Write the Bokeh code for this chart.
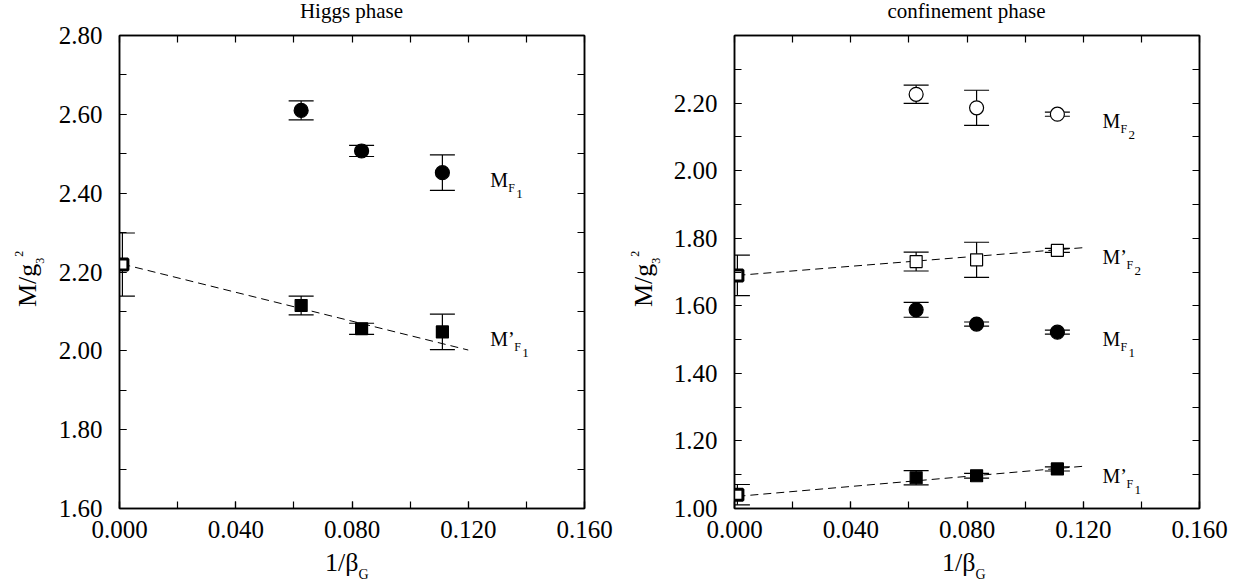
from bokeh.plotting import figure
from bokeh.models import (ColumnDataSource, Whisker, TeeHead, Label, LinearAxis,
                          FixedTicker, NumeralTickFormatter, Range1d, Div)
from bokeh.layouts import row, column
from bokeh.embed import file_html
from bokeh.resources import INLINE

FONT = "Liberation Serif"

# ---------------- data ----------------
beta_inv = [0.0625, 0.0833, 0.1111]       # 1/beta_G
x_extrap = [0.001]                         # continuum-extrapolated point

# Higgs phase
higgs_MF1 = [2.610, 2.507, 2.452]
higgs_MF1_err = [0.024, 0.014, 0.045]
higgs_MpF1 = [2.115, 2.056, 2.048]
higgs_MpF1_err = [0.024, 0.014, 0.045]
higgs_MpF1_ext = [2.219]
higgs_MpF1_ext_err = [0.080]
higgs_fit_x = [0.001, 0.120]
higgs_fit_y = [2.220, 2.002]

# confinement phase
conf_MF2 = [2.226, 2.186, 2.167]
conf_MF2_err = [0.027, 0.052, 0.006]
conf_MpF2 = [1.731, 1.736, 1.764]
conf_MpF2_err = [0.028, 0.052, 0.006]
conf_MpF2_ext = [1.690]
conf_MpF2_ext_err = [0.060]
conf_MpF2_fit_x = [0.001, 0.120]
conf_MpF2_fit_y = [1.690, 1.772]
conf_MF1 = [1.588, 1.546, 1.522]
conf_MF1_err = [0.022, 0.006, 0.006]
conf_MpF1 = [1.091, 1.097, 1.117]
conf_MpF1_err = [0.021, 0.007, 0.006]
conf_MpF1_ext = [1.041]
conf_MpF1_ext_err = [0.030]
conf_MpF1_fit_x = [0.001, 0.120]
conf_MpF1_fit_y = [1.036, 1.125]

x_major = [0.0, 0.04, 0.08, 0.12, 0.16]
x_minor = [0.0, 0.02, 0.04, 0.06, 0.08, 0.10, 0.12, 0.14, 0.16]
higgs_y_major = [1.6, 1.8, 2.0, 2.2, 2.4, 2.6, 2.8]
higgs_y_minor = [1.6 + 0.1 * i for i in range(13)]
conf_y_major = [1.0, 1.2, 1.4, 1.6, 1.8, 2.0, 2.2]
conf_y_minor = [1.0 + 0.1 * i for i in range(15)]

titles = ["Higgs phase", "confinement phase"]

FRAME_W, FRAME_H = 465, 473
TITLE_H, XLAB_H, YLAB_W = 20, 36, 50
BORDER_T, BORDER_B = 15, 42


def style_axis(ax):
    ax.axis_line_color = "black"
    ax.axis_line_width = 1.5
    ax.major_tick_in = 7
    ax.major_tick_out = 0
    ax.minor_tick_in = 7
    ax.minor_tick_out = 0
    ax.major_tick_line_color = "black"
    ax.minor_tick_line_color = "black"
    ax.major_tick_line_width = 1.2
    ax.minor_tick_line_width = 1.2
    ax.major_label_text_font = FONT
    ax.major_label_text_font_size = "25px"
    ax.major_label_text_color = "black"


def make_fig(yr, ymaj, ymin, border_l, border_r):
    p = figure(frame_width=FRAME_W, frame_height=FRAME_H,
               x_range=Range1d(0.0, 0.16), y_range=Range1d(*yr),
               x_axis_type=None, y_axis_type=None,
               min_border_left=border_l, min_border_right=border_r,
               min_border_top=BORDER_T, min_border_bottom=BORDER_B,
               output_backend="svg", toolbar_location=None)
    p.outline_line_color = "black"
    p.outline_line_width = 1.5
    p.background_fill_color = "white"
    p.border_fill_alpha = 0.0

    xb = LinearAxis(ticker=FixedTicker(ticks=x_major, minor_ticks=x_minor),
                    formatter=NumeralTickFormatter(format="0.000"))
    style_axis(xb)
    xb.major_label_standoff = 12
    p.add_layout(xb, "below")
    yl = LinearAxis(ticker=FixedTicker(ticks=ymaj, minor_ticks=ymin),
                    formatter=NumeralTickFormatter(format="0.00"))
    style_axis(yl)
    yl.major_label_standoff = 17
    p.add_layout(yl, "left")
    xa = LinearAxis(ticker=FixedTicker(ticks=[], minor_ticks=x_minor))
    style_axis(xa)
    xa.major_label_standoff = 0
    p.add_layout(xa, "above")
    yr_ax = LinearAxis(ticker=FixedTicker(ticks=[], minor_ticks=ymin))
    style_axis(yr_ax)
    yr_ax.major_label_standoff = 0
    p.add_layout(yr_ax, "right")
    return p


def errbars(p, xs, ys, es, cap=25):
    src = ColumnDataSource(dict(x=xs, up=[y + e for y, e in zip(ys, es)],
                                lo=[y - e for y, e in zip(ys, es)]))
    w = Whisker(base="x", upper="up", lower="lo", source=src, dimension="height",
                line_color="black", line_width=1.2, level="underlay",
                upper_head=TeeHead(size=cap, line_color="black", line_width=1.2),
                lower_head=TeeHead(size=cap, line_color="black", line_width=1.2))
    p.add_layout(w)


def pts(p, xs, ys, marker, filled, size, lw=1.2):
    p.scatter(xs, ys, marker=marker, size=size,
              fill_color="black" if filled else "white",
              line_color="black", line_width=lw)


def series_label(p, x, y, main, sub, subsub):
    base = dict(x=x, y=y, x_units="data", y_units="data", text_font=FONT,
                text_color="black", text_baseline="alphabetic", text_align="left")
    mw = 18 if main == "M" else 24
    p.add_layout(Label(text=main, x_offset=0, y_offset=-7, text_font_size="20px", **base))
    p.add_layout(Label(text=sub, x_offset=mw, y_offset=-15, text_font_size="12px", **base))
    p.add_layout(Label(text=subsub, x_offset=mw + 8, y_offset=-21, text_font_size="13px", **base))


def box(w, h, inner):
    html = ('<div style="position:relative;width:%dpx;height:%dpx;overflow:visible;'
            'font-family:\'Liberation Serif\',\'Times New Roman\',serif;color:black;">%s</div>'
            % (w, h, inner))
    return Div(text=html, width=w, height=h, margin=0, styles={"overflow": "visible"})


def title_div(w, text, cx):
    size = 21
    top = 19 - 0.8375 * size
    inner = ('<span style="position:absolute;left:%.1fpx;top:%.1fpx;transform:translateX(-50%%);'
             'white-space:nowrap;font-size:%dpx;line-height:1;">%s</span>' % (cx, top, size, text))
    return box(w, TITLE_H, inner)


def xlabel_div(w, left):
    size = 26
    top = (572 - (TITLE_H + BORDER_T + FRAME_H + BORDER_B)) - 0.8375 * size
    inner = ('<span style="position:absolute;left:%.1fpx;top:%.1fpx;white-space:nowrap;'
             'font-size:%dpx;line-height:1;">1/β<span style="font-size:14px;position:relative;'
             'top:8px;">G</span></span>' % (left, top, size))
    return box(w, XLAB_H, inner)


def ylabel_div(h, baseline_x):
    size = 26
    left = baseline_x - 0.8375 * size
    top = 307 - TITLE_H
    inner = ('<span style="position:absolute;left:%.1fpx;top:%.1fpx;transform-origin:0 0;'
             'transform:rotate(-90deg);white-space:nowrap;font-size:%dpx;line-height:1;">'
             'M/g<span style="font-size:12px;position:relative;top:8px;">3</span>'
             '<span style="font-size:12px;position:relative;top:-13px;margin-left:1px;">2</span>'
             '</span>' % (left, top, size))
    return box(YLAB_W, h, inner)


LABEL_X_L = 0.1276
LABEL_X_R = 0.1266

# ---------------- Higgs phase ----------------
p1 = make_fig((1.6, 2.8), higgs_y_major, higgs_y_minor, 119 - YLAB_W, 36)
p1.line(higgs_fit_x, higgs_fit_y, line_color="black", line_width=1, line_dash="8 5")
errbars(p1, beta_inv, higgs_MF1, higgs_MF1_err)
errbars(p1, beta_inv, higgs_MpF1, higgs_MpF1_err)
errbars(p1, x_extrap, higgs_MpF1_ext, higgs_MpF1_ext_err)
pts(p1, beta_inv, higgs_MF1, "circle", True, 14)
pts(p1, beta_inv, higgs_MpF1, "square", True, 12)
pts(p1, x_extrap, higgs_MpF1_ext, "square", False, 11, lw=3)
series_label(p1, LABEL_X_L, higgs_MF1[-1], "M", "F", "1")
series_label(p1, LABEL_X_L, higgs_MpF1[-1], "M’", "F", "1")

# ---------------- confinement phase ----------------
p2 = make_fig((1.0, 2.4), conf_y_major, conf_y_minor, 734 - 620 - YLAB_W, 49)
p2.line(conf_MpF2_fit_x, conf_MpF2_fit_y, line_color="black", line_width=1, line_dash="8 5")
p2.line(conf_MpF1_fit_x, conf_MpF1_fit_y, line_color="black", line_width=1, line_dash="8 5")
errbars(p2, beta_inv, conf_MF2, conf_MF2_err)
errbars(p2, beta_inv, conf_MpF2, conf_MpF2_err)
errbars(p2, x_extrap, conf_MpF2_ext, conf_MpF2_ext_err)
errbars(p2, beta_inv, conf_MF1, conf_MF1_err)
errbars(p2, beta_inv, conf_MpF1, conf_MpF1_err)
errbars(p2, x_extrap, conf_MpF1_ext, conf_MpF1_ext_err)
pts(p2, beta_inv, conf_MF2, "circle", False, 14)
pts(p2, beta_inv, conf_MpF2, "square", False, 12)
pts(p2, x_extrap, conf_MpF2_ext, "square", False, 11, lw=3)
pts(p2, beta_inv, conf_MF1, "circle", True, 14)
pts(p2, beta_inv, conf_MpF1, "square", True, 12)
pts(p2, x_extrap, conf_MpF1_ext, "square", False, 11, lw=3)
series_label(p2, LABEL_X_R, conf_MF2[-1], "M", "F", "2")
series_label(p2, LABEL_X_R, conf_MpF2[-1], "M’", "F", "2")
series_label(p2, LABEL_X_R, conf_MF1[-1], "M", "F", "1")
series_label(p2, LABEL_X_R, conf_MpF1[-1], "M’", "F", "1")

W1 = 620
W2 = 628
H_MID = BORDER_T + FRAME_H + BORDER_B

layout = column(
    row(title_div(W1, titles[0], 351.5), title_div(W2, titles[1], 346.5)),
    row(ylabel_div(H_MID, 37), p1, ylabel_div(H_MID, 653 - 620), p2),
    row(xlabel_div(W1, 325), xlabel_div(W2, 322)),
)
open("out.html", "w").write(file_html(layout, INLINE))
